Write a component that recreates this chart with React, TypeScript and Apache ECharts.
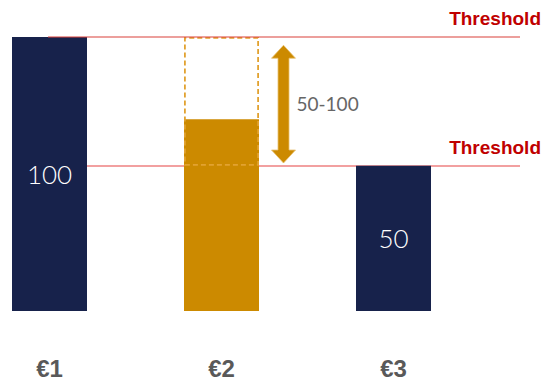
import React, { useEffect, useRef } from "react";
import * as echarts from "echarts";

const categories = ["€1", "€2", "€3"];
const barValues = [100, 70, 53];
const barLabels = ["100", "", "50"];
const rangeBase = ["-", 53, "-"];
const rangeSpan = ["-", 47, "-"];
const thresholds = [100, 53];
const arrowRange = [54, 97];
const arrowLabel = "50-100";
const thresholdLabel = "Threshold";

const NAVY = "#17224b";
const ORANGE = "#cc8a00";
const barColors = [NAVY, ORANGE, NAVY];

export default function App() {
  const ref = useRef<HTMLDivElement>(null);
  useEffect(() => {
    document.body.style.margin = "0";
    const chart = echarts.init(ref.current!, null, { renderer: "svg" });
    const thresholdSeries = (val: number, color: string, width: number, z: number, x0: number) => ({
      type: "custom",
      z,
      silent: true,
      data: [[0, val]],
      renderItem: (params: any, api: any) => {
        const yRaw = api.coord([0, api.value(1)])[1];
        const y = width % 2 === 1 ? Math.round(yRaw) + 0.5 : Math.round(yRaw);
        return {
          type: "group",
          children: [
            { type: "line", shape: { x1: x0, y1: y, x2: 520, y2: y }, style: { stroke: color, lineWidth: width } },
            {
              type: "text",
              x: 541,
              y: yRaw - 9,
              style: {
                text: thresholdLabel,
                fill: "#c00000",
                font: "bold 19px 'Liberation Sans', sans-serif",
                align: "right",
                verticalAlign: "bottom",
              },
            },
          ],
        };
      },
    });
    chart.setOption({
      animation: false,
      grid: { left: 49.5, right: 150.5, top: 37, bottom: 68 },
      xAxis: {
        type: "category",
        data: categories,
        boundaryGap: false,
        axisLine: { show: false },
        axisTick: { show: false },
        splitLine: { show: false },
        axisLabel: {
          margin: 45,
          color: "#595959",
          fontSize: 24,
          fontWeight: "bold",
          fontFamily: "'Liberation Sans', sans-serif",
        },
      },
      yAxis: { type: "value", min: 0, max: 100, show: false, splitLine: { show: false } },
      series: [
        {
          type: "bar",
          z: 2,
          barWidth: 75,
          barGap: "-100%",
          data: barValues.map((v, i) => ({ value: v, itemStyle: { color: barColors[i] } })),
          label: {
            show: true,
            position: "inside",
            color: "#ffffff",
            fontSize: 26,
            fontWeight: 300,
            fontFamily: "Lato, sans-serif",
            formatter: (p: any) => barLabels[p.dataIndex],
          },
        },
        {
          type: "bar",
          z: 2,
          stack: "range",
          barWidth: 75,
          silent: true,
          data: rangeBase,
          itemStyle: { color: "transparent" },
        },
        {
          type: "bar",
          z: 2,
          stack: "range",
          barWidth: 75,
          silent: true,
          data: rangeSpan,
          itemStyle: {
            color: "transparent",
            borderColor: "#e2a230",
            borderWidth: 1.8,
            borderType: [5, 3],
          },
        },
        {
          type: "custom",
          z: 4,
          silent: true,
          data: [[1, arrowRange[0], arrowRange[1]]],
          renderItem: (params: any, api: any) => {
            const bottom = api.coord([api.value(0), api.value(1)]);
            const top = api.coord([api.value(0), api.value(2)]);
            const cx = bottom[0] + 62;
            const yb = bottom[1];
            const yt = top[1];
            const hh = 13;
            const hw = 12;
            const sw = 5.5;
            return {
              type: "group",
              children: [
                {
                  type: "polygon",
                  shape: {
                    points: [
                      [cx, yt],
                      [cx + hw, yt + hh],
                      [cx + sw, yt + hh],
                      [cx + sw, yb - hh],
                      [cx + hw, yb - hh],
                      [cx, yb],
                      [cx - hw, yb - hh],
                      [cx - sw, yb - hh],
                      [cx - sw, yt + hh],
                      [cx - hw, yt + hh],
                    ],
                  },
                  style: { fill: ORANGE, stroke: "#e8c070", lineWidth: 0.8 },
                },
                {
                  type: "text",
                  x: cx + 13,
                  y: (yt + yb) / 2 - 1,
                  style: {
                    text: arrowLabel,
                    fill: "#666666",
                    font: "19px Lato, sans-serif",
                    align: "left",
                    verticalAlign: "middle",
                  },
                },
              ],
            };
          },
        },
        thresholdSeries(thresholds[0], "#d9403a", 1.2, 5, 48),
        thresholdSeries(thresholds[1], "#f2a0a0", 2, 1, 48),
      ],
    });
    return () => chart.dispose();
  }, []);
  return <div ref={ref} style={{ width: 544, height: 380 }} />;
}
